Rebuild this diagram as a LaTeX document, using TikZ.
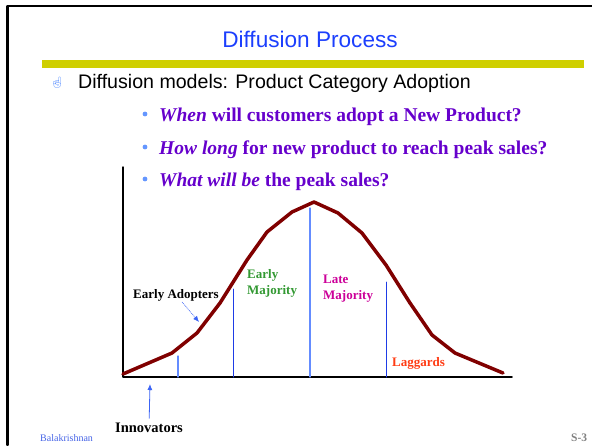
\documentclass[tikz,border=0pt]{standalone}
\usepackage{fontspec}
\usetikzlibrary{arrows.meta}
\setmainfont{Liberation Serif}
\setsansfont{Liberation Sans}
\newfontfamily\handfont{Noto Emoji}
\definecolor{titleblue}{RGB}{28,63,253}
\definecolor{barolive}{RGB}{207,207,0}
\definecolor{askpurple}{RGB}{102,0,204}
\definecolor{dotblue}{RGB}{100,150,255}
\definecolor{curvered}{RGB}{128,0,0}
\definecolor{cutblue}{RGB}{30,60,230}
\definecolor{cutlight}{RGB}{100,140,255}
\definecolor{pointblue}{RGB}{60,100,245}
\definecolor{earlygreen}{RGB}{51,153,51}
\definecolor{latepink}{RGB}{204,0,153}
\definecolor{lagred}{RGB}{255,60,20}
\definecolor{authorblue}{RGB}{70,100,230}

\begin{document}
\begin{tikzpicture}[x=1pt,y=-1pt,line cap=round,line join=round,
    ask/.style={anchor=base west,inner sep=0pt,text=askpurple,
      font=\fontsize{19.5}{23}\selectfont\bfseries},
    group/.style={anchor=west,inner sep=0pt,align=left,
      font=\fontsize{13}{16}\selectfont\bfseries},
    pointer/.style={-{Latex[length=6pt,width=5pt]},pointblue,line width=0.8pt}]
        \useasboundingbox (0,0) rectangle (592,445);

        % slide frame and header
        \draw [line width=2.5pt] (7.5,445)-- (7.5,6)-- (592,6);
        \fill [barolive] (42,60) rectangle (584,68);
        \node (title) [anchor=base,inner sep=0pt,text=titleblue,
          font=\fontsize{22.6}{27}\selectfont\sffamily] at (310,47) {Diffusion Process};
        \node (hand) [inner sep=0pt,text=dotblue,font=\fontsize{11}{13}\selectfont\handfont]
          at (57,83) {☝};
        \node (topic) [anchor=base west,inner sep=0pt,
          font=\fontsize{19.6}{23}\selectfont\sffamily] at (78,88)
          {Diffusion models: Product Category Adoption};

        % questions
        \fill [dotblue] (145,114) circle (2.4);
        \fill [dotblue] (145,147) circle (2.4);
        \fill [dotblue] (145,179) circle (2.4);
        \node (when) [ask] at (159,121.5) {\textit{When} will customers adopt a New Product?};
        \node (howlong) [ask] at (159,154) {\textit{How long} for new product to reach peak sales?};
        \node (peak) [ask] at (159,186.5) {\textit{What will be} the peak sales?};

        % axes
        \draw [line width=1.5pt] (123,167)-- (123,377)-- (512,377);

        % adopter categories
        \draw [cutlight,line width=1.2pt] (178,356)-- (178,377);
        \draw [cutblue,line width=1pt] (233,289)-- (233,377);
        \draw [cutlight,line width=1.2pt] (310,208)-- (310,377);
        \draw [cutblue,line width=1pt] (386,282)-- (386,377);

        % adoption curve
        \draw [curvered,line width=3.5pt] (123,374)-- (172,353)-- (197,333)-- (220,303)
          -- (247,260)-- (267,232)-- (292,212)-- (314,202)-- (338,213)-- (362,233)
          -- (386,265)-- (410,303)-- (432,335)-- (455,353)-- (503,373);

        \node (adopters) [anchor=base west,inner sep=1pt,
          font=\fontsize{13}{16}\selectfont\bfseries] at (132,298) {Early Adopters};
        \node (earlymaj) [group,text=earlygreen] at (247,283) {Early\\Majority};
        \node (latemaj) [group,text=latepink] at (323,289) {Late\\Majority};
        \node (laggards) [anchor=base west,inner sep=0pt,text=lagred,
          font=\fontsize{13}{16}\selectfont\bfseries] at (392,366) {Laggards};
        \node (innovators) [anchor=base,inner sep=4pt,
          font=\fontsize{14.5}{17}\selectfont\bfseries] at (149,432) {Innovators};

        \coordinate (adoptertip) at (199,322);
        \coordinate (innovtip) at (150,384);
        \draw [pointer,densely dotted,line width=0.6pt] (adopters)-- (adoptertip);
        \draw [pointer] (innovators)-- (innovtip);

        % footer
        \node (author) [anchor=base west,inner sep=0pt,text=authorblue,
          font=\fontsize{10}{12}\selectfont] at (40,441) {Balakrishnan};
        \node (slideno) [anchor=base west,inner sep=0pt,text=gray,
          font=\fontsize{11.5}{13}\selectfont\bfseries] at (571,441) {S-3};
      \end{tikzpicture}
\end{document}
